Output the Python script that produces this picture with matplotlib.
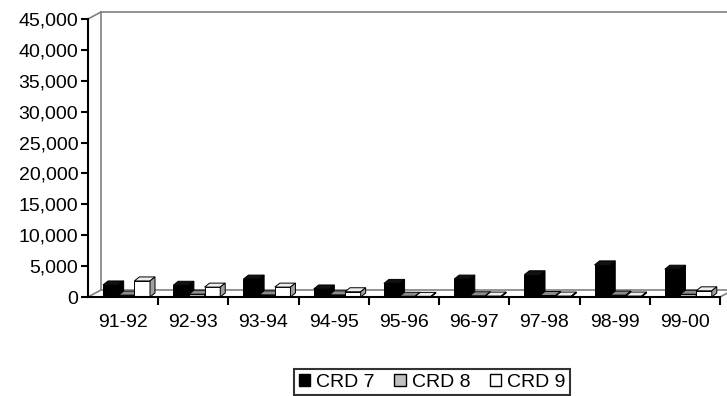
import matplotlib
matplotlib.use("Agg")
import matplotlib.pyplot as plt
from matplotlib.patches import Polygon, Patch
import numpy as np

plt.rcParams['font.family'] = ['Liberation Sans', 'DejaVu Sans']

# data
seasons = ["91-92", "92-93", "93-94", "94-95", "95-96", "96-97", "97-98", "98-99", "99-00"]
crd7 = [1950, 1900, 2900, 1300, 2200, 2900, 3600, 5200, 4500]
crd8 = [300, 450, 350, 350, 120, 200, 250, 300, 450]
crd9 = [2600, 1600, 1600, 850, 100, 150, 150, 150, 1000]
seriesNames = ["CRD 7", "CRD 8", "CRD 9"]
yTicks = list(range(0, 45001, 5000))

# face colours: front, top, side
faceColours = [("#000000", "#111111", "#000000"),
               ("#b8b8b8", "#8c8c8c", "#6e6e6e"),
               ("#ffffff", "#eeeeee", "#a0a0a0")]
legendColours = ["#000000", "#c0c0c0", "#ffffff"]

fig = plt.figure(figsize=(7.27, 3.96), dpi=100)
ax = fig.add_axes([88 / 727, 99 / 396, 632 / 727, 278 / 396])
ax.set_xlim(0, len(seasons))
ax.set_ylim(0, 45000)

# pixel -> data conversion for the fake 3d depth
pxX = len(seasons) / 632.0
pxY = 45000 / 278.0
wallDx, wallDy = 13 * pxX, 7 * pxY
barDx, barDy = 5 * pxX, 4 * pxY

grey = "#808080"
n = len(seasons)
# back wall and floor
ax.plot([wallDx, wallDx], [wallDy, 45000 + wallDy], color=grey, lw=1.2, clip_on=False)
ax.plot([wallDx, n + wallDx], [45000 + wallDy, 45000 + wallDy], color=grey, lw=1.2, clip_on=False)
ax.plot([wallDx, n + wallDx], [wallDy, wallDy], color=grey, lw=1.2, clip_on=False)
ax.plot([0, wallDx], [45000, 45000 + wallDy], color=grey, lw=1.2, clip_on=False)
ax.plot([0, wallDx], [0, wallDy], color=grey, lw=1.2, clip_on=False)
ax.plot([n, n + wallDx], [0, wallDy], color=grey, lw=1.2, clip_on=False)

barW = 0.223
start = 0.214
allSeries = [crd7, crd8, crd9]
z = 3
for i in range(n):
    for k in range(3):
        h = allSeries[k][i]
        x0 = i + start + k * barW
        x1 = x0 + barW
        front, top, side = faceColours[k]
        ax.add_patch(Polygon([(x0, 0), (x1, 0), (x1, h), (x0, h)], closed=True,
                             facecolor=front, edgecolor="black", lw=0.7, zorder=z, clip_on=False))
        ax.add_patch(Polygon([(x0, h), (x1, h), (x1 + barDx, h + barDy), (x0 + barDx, h + barDy)],
                             closed=True, facecolor=top, edgecolor="black", lw=0.7, zorder=z, clip_on=False))
        ax.add_patch(Polygon([(x1, 0), (x1 + barDx, barDy), (x1 + barDx, h + barDy), (x1, h)],
                             closed=True, facecolor=side, edgecolor="black", lw=0.7, zorder=z, clip_on=False))
        z += 1

# axes styling
for s in ["top", "right"]:
    ax.spines[s].set_visible(False)
ax.spines["left"].set_linewidth(1.5)
ax.spines["bottom"].set_linewidth(1.5)
ax.spines["left"].set_zorder(100)
ax.spines["bottom"].set_zorder(100)

ax.set_yticks(yTicks)
ax.set_yticklabels([f"{v:,}" for v in yTicks])
ax.set_xticks(np.arange(1, n + 1))
ax.set_xticklabels([])
ax.set_xticks(np.arange(n) + 0.5, minor=True)
ax.set_xticklabels(seasons, minor=True)
ax.tick_params(axis="x", which="major", direction="out", length=6, width=1.5)
ax.tick_params(axis="x", which="minor", length=0, pad=12, labelsize=14)
ax.tick_params(axis="y", direction="out", length=5, width=1.5, labelsize=14, pad=2)

handles = [Patch(facecolor=c, edgecolor="black", lw=1) for c in legendColours]
leg = fig.legend(handles, seriesNames, loc="upper center", bbox_to_anchor=(432 / 727, 1 - 359 / 396),
                 ncol=3, frameon=True, fancybox=False, edgecolor="black", fontsize=14,
                 handlelength=0.6, handleheight=0.6, handletextpad=0.3, columnspacing=1.0,
                 borderpad=0.25)
leg.get_frame().set_linewidth(1.5)

fig.savefig("out.png", dpi=100)
